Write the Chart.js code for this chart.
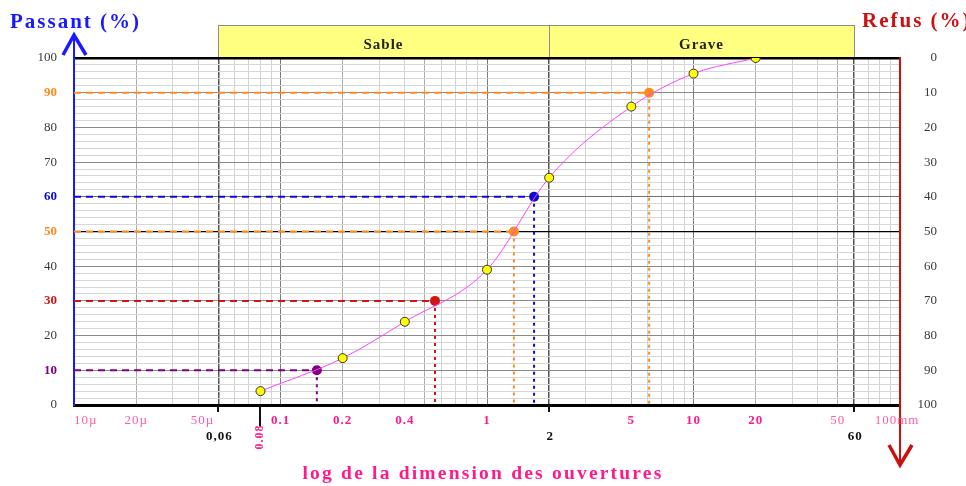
<!DOCTYPE html>
<html>
<head>
<meta charset="utf-8">
<script src="https://cdn.jsdelivr.net/npm/chart.js@4/dist/chart.umd.min.js"></script>
<style>
  html, body { margin: 0; padding: 0; background: #fff; }
</style>
</head>
<body>
<canvas id="courbe" width="966" height="486"></canvas>
<script>
// tamis (ouvertures en mm) et passants cumulés (%)
const tamis = [0.08, 0.2, 0.4, 1, 2, 5, 10, 20];
const passants = [4, 13.5, 24, 39, 65.5, 86, 95.5, 100];

// diamètres caractéristiques
const dNoms = ['D10', 'D30', 'D50', 'D60', 'D90'];
const dTailles = [0.15, 0.56, 1.35, 1.69, 6.1];
const dPassants = [10, 30, 50, 60, 90];
const dCouleurs = ['#800080', '#d41414', '#ff8a1c', '#0a0ad0', '#ff8a1c'];

// classes granulaires (bornes en mm)
const classes = ['Sable', 'Grave'];
const classesDebut = [0.05, 2];
const classesFin = [2, 60];

// graduations de l'axe des ouvertures
const gradValeurs = [0.01, 0.02, 0.05, 0.1, 0.2, 0.4, 1, 5, 10, 20, 50, 100];
const gradTextes = ['10µ', '20µ', '50µ', '0.1', '0.2', '0.4', '1', '5', '10', '20', '50', '100mm'];
const bornesValeurs = [0.05, 2, 60];
const bornesTextes = ['0,06', '2', '60'];
const repereValeur = 0.08;
const repereTexte = '0.08';

// graduations des pourcentages
const pourcents = [0, 10, 20, 30, 40, 50, 60, 70, 80, 90, 100];

const SERIF = '"Liberation Serif", "DejaVu Serif", serif';

// toutes les lignes de la grille logarithmique : 1..9 x 10^k
const grilleX = [];
for (let k = -2; k <= 1; k++) {
  for (let m = 1; m <= 9; m++) grilleX.push(Number((m * Math.pow(10, k)).toPrecision(2)));
}
grilleX.push(100);

const grilleY = [];
for (let v = 0; v <= 100; v += 2) grilleY.push(v);

const valeurTick = c => (c && c.tick ? c.tick.value : NaN);

function couleurGrilleX(v) {
  if (!(v > 0)) return '#d4d4d4';
  if (bornesValeurs.includes(v)) return '#555';
  const m = Math.round(v / Math.pow(10, Math.floor(Math.log10(v) + 1e-9)));
  if (m === 1) return '#7c7c7c';
  if (m === 2 || m === 5) return '#adadad';
  return '#d4d4d4';
}

function couleurGrilleY(v) {
  if (v === 50 || v === 100) return '#000';
  if (v === 60) return '#707070';
  if (v % 10 === 0) return '#8a8a8a';
  return '#d6d6d6';
}

function couleurPassant(v) {
  const i = dPassants.indexOf(v);
  return i >= 0 ? dCouleurs[i] : '#3a3a3a';
}

function fleche(ctx, x, yBase, yPointe, couleur, sens) {
  ctx.strokeStyle = couleur;
  ctx.lineWidth = 2;
  ctx.beginPath();
  ctx.moveTo(x, yBase);
  ctx.lineTo(x, yPointe);
  ctx.stroke();
  ctx.lineWidth = 3.5;
  ctx.lineJoin = 'miter';
  ctx.beginPath();
  ctx.moveTo(x - 11, yPointe - sens * 20);
  ctx.lineTo(x, yPointe);
  ctx.lineTo(x + 12, yPointe - sens * 20);
  ctx.stroke();
}

const decor = {
  id: 'decor',
  beforeDraw(chart) {
    const { ctx, chartArea: a, scales: { x } } = chart;
    ctx.save();
    classes.forEach((nom, i) => {
      const x0 = Math.round(x.getPixelForValue(classesDebut[i]));
      const x1 = Math.round(x.getPixelForValue(classesFin[i]));
      ctx.fillStyle = '#ffff80';
      ctx.fillRect(x0, a.top - 33, x1 - x0, 33);
      ctx.strokeStyle = '#8c8c8c';
      ctx.lineWidth = 1;
      ctx.strokeRect(x0 + 0.5, a.top - 32.5, x1 - x0, 33);
      ctx.fillStyle = '#222';
      ctx.font = 'bold 15px ' + SERIF;
      ctx.letterSpacing = '1px';
      ctx.textAlign = 'center';
      ctx.textBaseline = 'middle';
      ctx.fillText(nom, (x0 + x1) / 2, a.top - 13);
    });
    ctx.restore();
  },
  afterDraw(chart) {
    const { ctx, chartArea: a, scales: { x } } = chart;
    ctx.save();

    // titres des axes verticaux
    ctx.textBaseline = 'alphabetic';
    ctx.font = 'bold 21px ' + SERIF;
    ctx.letterSpacing = '2px';
    ctx.textAlign = 'left';
    ctx.fillStyle = '#1a1aff';
    ctx.fillText('Passant (%)', 10, 28);
    ctx.fillStyle = '#cc1010';
    ctx.fillText('Refus (%)', 862, 27);

    // flèches des axes
    fleche(ctx, a.left, a.top, a.top - 23, '#1a1aff', -1);
    fleche(ctx, a.right, a.bottom, a.bottom + 60, '#cc1010', 1);

    // repères sous l'axe des ouvertures
    ctx.strokeStyle = '#111';
    ctx.lineWidth = 2;
    bornesValeurs.forEach(v => {
      const px = Math.round(x.getPixelForValue(v));
      ctx.beginPath();
      ctx.moveTo(px, a.bottom);
      ctx.lineTo(px, a.bottom + 7);
      ctx.stroke();
    });
    const pr = Math.round(x.getPixelForValue(repereValeur));
    ctx.beginPath();
    ctx.moveTo(pr, a.bottom);
    ctx.lineTo(pr, a.bottom + 21);
    ctx.stroke();

    // graduations roses
    ctx.letterSpacing = '1px';
    ctx.textBaseline = 'middle';
    gradValeurs.forEach((v, i) => {
      const fort = v >= 0.1 && v <= 20;
      ctx.font = (fort ? 'bold ' : '') + '13px ' + SERIF;
      ctx.fillStyle = fort ? '#ff1a8c' : '#ff5aa8';
      let px = x.getPixelForValue(v);
      if (i === 0) { ctx.textAlign = 'left'; }
      else if (v === 0.05) { ctx.textAlign = 'right'; px -= 4; }
      else { ctx.textAlign = 'center'; px -= v === 100 ? 3 : 0; }
      ctx.fillText(gradTextes[i], px, a.bottom + 16);
    });

    // bornes des classes
    ctx.font = 'bold 13px ' + SERIF;
    ctx.fillStyle = '#111';
    ctx.textAlign = 'center';
    bornesValeurs.forEach((v, i) => {
      ctx.fillText(bornesTextes[i], x.getPixelForValue(v) + 1, a.bottom + 32);
    });

    // repère vertical 0.08
    ctx.save();
    ctx.translate(pr, a.bottom + 32);
    ctx.rotate(-Math.PI / 2);
    ctx.font = 'bold 12px ' + SERIF;
    ctx.fillStyle = '#ff1a8c';
    ctx.fillText(repereTexte, 0, 0);
    ctx.restore();

    // titre de l'axe des ouvertures
    ctx.font = 'bold 19.5px ' + SERIF;
    ctx.letterSpacing = '2.2px';
    ctx.fillStyle = '#ff1a8c';
    ctx.textAlign = 'center';
    ctx.fillText('log de la dimension des ouvertures', 483, 474);

    ctx.restore();
  }
};

const courbe = {
  type: 'line',
  label: 'Passants',
  data: tamis.map((t, i) => ({ x: t, y: passants[i] })),
  borderColor: '#ff44ff',
  borderWidth: 1,
  cubicInterpolationMode: 'monotone',
  pointRadius: 4.5,
  pointBackgroundColor: '#ffff00',
  pointBorderColor: '#333',
  pointBorderWidth: 1,
  order: 0
};

// tireté horizontal depuis l'axe des passants jusqu'au point Dxx
const horizontales = dNoms.map((nom, i) => ({
  type: 'line',
  label: nom,
  data: [{ x: 0.01, y: dPassants[i] }, { x: dTailles[i], y: dPassants[i] }],
  borderColor: dCouleurs[i],
  borderWidth: 2,
  borderDash: [7, 5],
  tension: 0,
  pointRadius: [0, 5],
  pointBackgroundColor: dCouleurs[i],
  pointBorderWidth: 0,
  order: 1
}));

// pointillé vertical du point Dxx jusqu'à l'axe des ouvertures
const verticales = dNoms.map((nom, i) => ({
  type: 'line',
  label: nom + ' (taille)',
  data: [{ x: dTailles[i], y: dPassants[i] }, { x: dTailles[i], y: 0 }],
  borderColor: dCouleurs[i],
  borderWidth: 2,
  borderDash: [3, 4],
  tension: 0,
  pointRadius: 0,
  order: 2
}));

new Chart(document.getElementById('courbe'), {
  type: 'line',
  data: { datasets: [courbe, ...horizontales, ...verticales] },
  options: {
    responsive: false,
    animation: false,
    layout: { padding: { top: 58, right: 29, left: 0, bottom: 0 } },
    plugins: {
      legend: { display: false },
      tooltip: { enabled: false }
    },
    scales: {
      x: {
        type: 'logarithmic',
        min: 0.01,
        max: 100,
        afterBuildTicks: s => { s.ticks = grilleX.map(v => ({ value: v })); },
        ticks: { display: false },
        grid: {
          color: c => couleurGrilleX(valeurTick(c)),
          lineWidth: c => (bornesValeurs.includes(valeurTick(c)) ? 1.5 : 1),
          drawTicks: false
        },
        border: { color: '#000', width: 3 },
        afterFit: s => { s.height = 81; }
      },
      y: {
        position: 'left',
        min: 0,
        max: 100,
        afterBuildTicks: s => { s.ticks = grilleY.map(v => ({ value: v })); },
        ticks: {
          autoSkip: false,
          padding: 17,
          callback: v => (pourcents.includes(v) ? String(v) : ''),
          color: c => couleurPassant(valeurTick(c)),
          font: c => ({
            family: SERIF,
            size: 13,
            weight: dPassants.includes(valeurTick(c)) ? 'bold' : 'normal'
          })
        },
        grid: {
          color: c => couleurGrilleY(valeurTick(c)),
          lineWidth: c => {
            const v = valeurTick(c);
            return v === 100 ? 2.5 : (v === 50 ? 1.3 : 1);
          },
          drawTicks: false
        },
        border: { color: '#1a1aff', width: 2 },
        afterFit: s => { s.width = 74; }
      },
      y2: {
        position: 'right',
        min: 0,
        max: 100,
        reverse: true,
        afterBuildTicks: s => { s.ticks = pourcents.map(v => ({ value: v })); },
        ticks: {
          autoSkip: false,
          crossAlign: 'far',
          color: '#3a3a3a',
          font: { family: SERIF, size: 13 }
        },
        grid: { display: false, drawTicks: false },
        border: { color: '#cc1010', width: 2 },
        afterFit: s => { s.width = 37; }
      }
    }
  },
  plugins: [decor]
});
</script>
</body>
</html>
